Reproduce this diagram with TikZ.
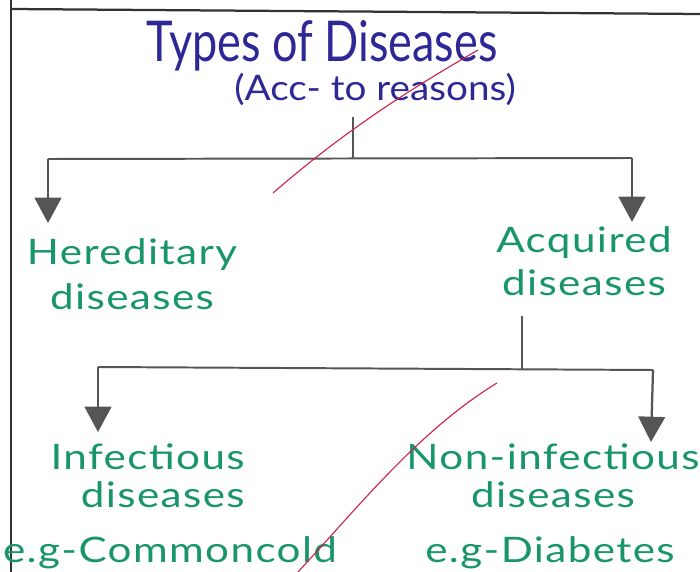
\documentclass[tikz,border=0pt]{standalone}
\usepackage{fontspec}
\setmainfont{Lato}
\newfontfamily\titlefont{Lato}[FakeStretch=0.8]
\newfontfamily\subfont{Lato}[FakeStretch=1.1]
\newfontfamily\greenfont{Lato}[FakeStretch=1.2,LetterSpace=4]
\usetikzlibrary{arrows.meta}
\definecolor{ink}{RGB}{45,40,150}
\definecolor{grn}{RGB}{25,150,105}
\definecolor{pen}{RGB}{85,85,85}
\definecolor{redpen}{RGB}{205,35,75}
\tikzset{
  title/.style={text=ink,inner sep=0pt,anchor=base,font=\titlefont\fontsize{40}{40}\selectfont},
  sub/.style={text=ink,inner sep=0pt,anchor=base,font=\subfont\fontsize{25}{25}\selectfont},
  lbl/.style={text=grn,inner sep=0pt,font=\greenfont\fontsize{25}{#1}\selectfont},
  lbl/.default=27,
  branch/.style={pen,line width=1.4pt},
  arr/.style={pen,line width=1.6pt,-{Triangle[width=19pt,length=18pt]}},
  border/.style={black!80,line width=1.6pt},
  tick/.style={redpen,line width=0.8pt}
}
\begin{document}
\begin{tikzpicture}[x=0.025cm,y=-0.025cm]
\useasboundingbox (0,0) rectangle (700,572);
% page borders
\draw[border] (11,0) -- (11,572);
\draw[border] (11,9) -- (700,14);
% title
\node[title] (t1) at (322,61) {Types of Diseases};
\node[sub] (t2) at (375,100) {(Acc- to reasons)};
% first level
\coordinate (s1) at (353,117);
\coordinate (j1) at (353,158);
\coordinate (l1) at (48,159);
\coordinate (r1) at (632,158);
\coordinate (la) at (48,223);
\coordinate (ra) at (632,222);
\draw[branch] (s1) -- (j1);
\draw[branch] (l1) -- (r1);
\draw[arr] (l1) -- (la);
\draw[arr] (r1) -- (ra);
\node[lbl=32,align=center,anchor=south] (her) at (132,310) {Hereditary\\diseases};
\node[lbl=30.5,align=center,anchor=south] (acq) at (584,296) {Acquired\\diseases};
% second level
\coordinate (s2) at (522,316);
\coordinate (j2) at (522,370);
\coordinate (l2) at (98,367);
\coordinate (r2) at (653,370);
\coordinate (lb) at (98,432);
\coordinate (rb) at (651,442);
\draw[branch] (s2) -- (j2);
\draw[branch] (l2) -- (r2);
\draw[arr] (l2) -- (lb);
\draw[arr] (r2) -- (rb);
\node[lbl=27,align=right,anchor=south east] (inf) at (245,508) {Infectious\\diseases};
\node[lbl,anchor=base] (infx) at (170,562) {e.g-Commoncold};
\node[lbl=27,align=center,anchor=south] (non) at (553,508) {Non-infectious\\diseases};
\node[lbl,anchor=base] (nonx) at (550,562) {e.g-Diabetes};
% red teacher ticks
\draw[tick] (273,193) .. controls (340,135) and (400,95) .. (478,50);
\draw[tick] (298,572) .. controls (360,505) and (420,430) .. (497,383);
\end{tikzpicture}
\end{document}
